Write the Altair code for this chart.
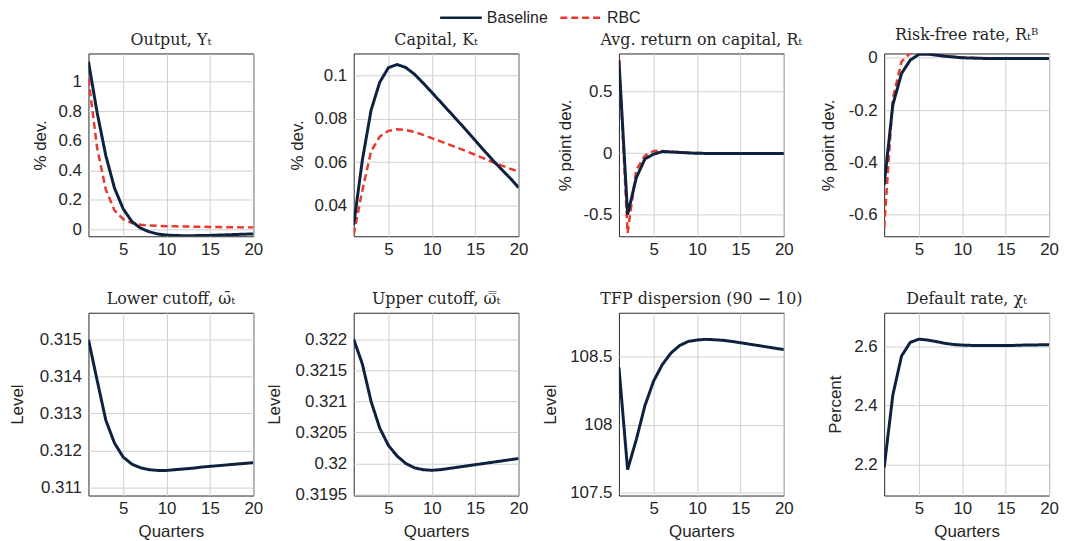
import altair as alt
import pandas as pd

# ---------------- data ----------------
quarters = list(range(1, 21))
series_names = ["Baseline", "RBC"]

output_base = [1.135, 0.79, 0.50, 0.28, 0.14, 0.055, 0.01, -0.015, -0.03, -0.037,
               -0.040, -0.041, -0.041, -0.040, -0.039, -0.037, -0.035, -0.033, -0.031, -0.029]
output_rbc = [1.02, 0.55, 0.27, 0.13, 0.07, 0.045, 0.033, 0.028, 0.025, 0.023,
              0.022, 0.021, 0.020, 0.019, 0.018, 0.017, 0.016, 0.016, 0.015, 0.015]

capital_base = [0.031, 0.061, 0.084, 0.097, 0.1037, 0.1052, 0.1038, 0.1007, 0.0966, 0.0923,
                0.0879, 0.0835, 0.0791, 0.0746, 0.0701, 0.0655, 0.0610, 0.0568, 0.0527, 0.0482]
capital_rbc = [0.0265, 0.047, 0.065, 0.0718, 0.0745, 0.0752, 0.0749, 0.0740, 0.0726, 0.0711,
               0.0696, 0.0681, 0.0666, 0.0650, 0.0634, 0.0617, 0.0600, 0.0585, 0.0570, 0.0556]

return_base = [0.757, -0.50, -0.20, -0.046, -0.008, 0.013, 0.010, 0.006, 0.002, -0.001,
               -0.002, -0.003, -0.003, -0.003, -0.003, -0.003, -0.003, -0.003, -0.003, -0.003]
return_rbc = [0.77, -0.65, -0.135, -0.02, 0.018, 0.018, 0.012, 0.007, 0.004, 0.001,
              0.0, -0.001, -0.002, -0.002, -0.002, -0.002, -0.002, -0.002, -0.002, -0.002]

riskfree_base = [-0.486, -0.18, -0.06, -0.009, 0.013, 0.014, 0.010, 0.006, 0.003, 0.0,
                 -0.001, -0.002, -0.003, -0.003, -0.003, -0.003, -0.003, -0.003, -0.003, -0.003]
riskfree_rbc = [-0.65, -0.155, -0.015, 0.018, 0.024, 0.019, 0.012, 0.007, 0.004, 0.001,
                0.0, -0.001, -0.002, -0.002, -0.002, -0.002, -0.002, -0.002, -0.002, -0.002]

lower_cutoff = [0.3150, 0.3139, 0.31282, 0.31220, 0.31182, 0.31163, 0.31153, 0.31148, 0.31146, 0.31146,
                0.31148, 0.31150, 0.31152, 0.31155, 0.31157, 0.31159, 0.31161, 0.31163, 0.31165, 0.31167]
upper_cutoff = [0.3220, 0.3216, 0.3210, 0.32057, 0.32029, 0.32012, 0.32000, 0.31993, 0.31990, 0.31989,
                0.31990, 0.31992, 0.31994, 0.31996, 0.31998, 0.32000, 0.32002, 0.32004, 0.32006, 0.32008]
tfp_dispersion = [108.42, 107.67, 107.89, 108.14, 108.32, 108.44, 108.525, 108.58, 108.61, 108.62,
                  108.625, 108.622, 108.618, 108.61, 108.60, 108.59, 108.58, 108.57, 108.56, 108.55]
default_rate = [2.191, 2.436, 2.567, 2.613, 2.624, 2.621, 2.616, 2.610, 2.606, 2.604,
                2.603, 2.603, 2.603, 2.603, 2.603, 2.603, 2.604, 2.604, 2.605, 2.605]

x_ticks = [5, 10, 15, 20]

panel_titles = ["Output, Yₜ", "Capital, Kₜ", "Avg. return on capital, Rₜ", "Risk-free rate, Rₜᴮ",
                "Lower cutoff, ω̄ₜ", "Upper cutoff, ω̿ₜ", "TFP dispersion (90 − 10)", "Default rate, χₜ"]
y_titles = ["% dev.", "% dev.", "% point dev.", "% point dev.", "Level", "Level", "Level", "Percent"]
y_domains = [[-0.045, 1.19], [0.0257, 0.1103], [-0.676, 0.811], [-0.683, 0.0165],
             [0.31078, 0.31573], [0.319484, 0.322426], [107.48, 108.82], [2.097, 2.713]]
y_tick_values = [[0, 0.2, 0.4, 0.6, 0.8, 1], [0.04, 0.06, 0.08, 0.1], [-0.5, 0, 0.5],
                 [-0.6, -0.4, -0.2, 0], [0.311, 0.312, 0.313, 0.314, 0.315],
                 [0.3195, 0.32, 0.3205, 0.321, 0.3215, 0.322], [107.5, 108, 108.5], [2.2, 2.4, 2.6]]

panel_series = [
    [("RBC", output_rbc), ("Baseline", output_base)],
    [("RBC", capital_rbc), ("Baseline", capital_base)],
    [("RBC", return_rbc), ("Baseline", return_base)],
    [("RBC", riskfree_rbc), ("Baseline", riskfree_base)],
    [("Baseline", lower_cutoff)],
    [("Baseline", upper_cutoff)],
    [("Baseline", tfp_dispersion)],
    [("Baseline", default_rate)],
]

# ---------------- style ----------------
NAVY = "#0e2240"
RED = "#e8392f"
TXT = "#262626"
SANS = "Liberation Sans"
SERIF = "DejaVu Serif"
W, H = 166, 184
title_x_offsets = [-48, -57, -54, -56, -71, -80, -69, -49]

legend = alt.Legend(orient="none", legendX=352, legendY=-44, direction="horizontal",
                    title=None, symbolType="M-1,0H6", symbolSize=144, symbolStrokeWidth=2.5,
                    labelFontSize=16, labelFont=SANS, labelColor=TXT, labelOffset=33,
                    columnPadding=7)


def make_panel(i):
    bottom = i >= 4
    layers = []
    for name, vals in panel_series[i]:
        df = pd.DataFrame({"t": quarters, "value": vals, "series": name})
        sw = 3 if name == "Baseline" else 2.5
        layer = alt.Chart(df).mark_line(clip=True, strokeWidth=sw).encode(
            x=alt.X("t:Q",
                    scale=alt.Scale(domain=[1, 20], nice=False, zero=False),
                    axis=alt.Axis(values=x_ticks, title="Quarters" if bottom else None,
                                  labelPadding=5, titlePadding=7, labelFlush=False)),
            y=alt.Y("value:Q",
                    scale=alt.Scale(domain=y_domains[i], nice=False, zero=False),
                    axis=alt.Axis(values=y_tick_values[i], title=y_titles[i],
                                  titleX=title_x_offsets[i], titleBaseline="middle",
                                  labelPadding=7, labelFlush=False,
                                  labelExpr="toString(datum.value)")),
            color=alt.Color("series:N",
                            scale=alt.Scale(domain=series_names, range=[NAVY, RED]),
                            legend=legend),
            strokeDash=alt.StrokeDash("series:N",
                                      scale=alt.Scale(domain=series_names, range=[[1, 0], [7, 4]]),
                                      legend=legend),
        )
        layers.append(layer)
    return alt.layer(*layers).properties(
        width=W, height=H,
        title=alt.TitleParams(panel_titles[i], anchor="middle"),
    )


panels = [make_panel(i) for i in range(8)]

chart = alt.concat(*panels, columns=4, spacing={"row": 77, "column": 101}, bounds="flush").properties(
    padding={"left": 0, "top": 0, "right": 0, "bottom": 0}
).configure_view(
    stroke=TXT, strokeWidth=1
).configure_axis(
    grid=True, gridColor="#d0d0d0", gridWidth=1, domain=False, ticks=False,
    labelFont=SANS, labelFontSize=17, labelColor=TXT,
    titleFont=SANS, titleFontSize=17, titleFontWeight="normal", titleColor=TXT,
).configure_title(
    font=SERIF, fontSize=16, fontWeight="normal", color=TXT, offset=6,
)

chart.save("out.html", embed_options={"renderer": "svg", "actions": False})
